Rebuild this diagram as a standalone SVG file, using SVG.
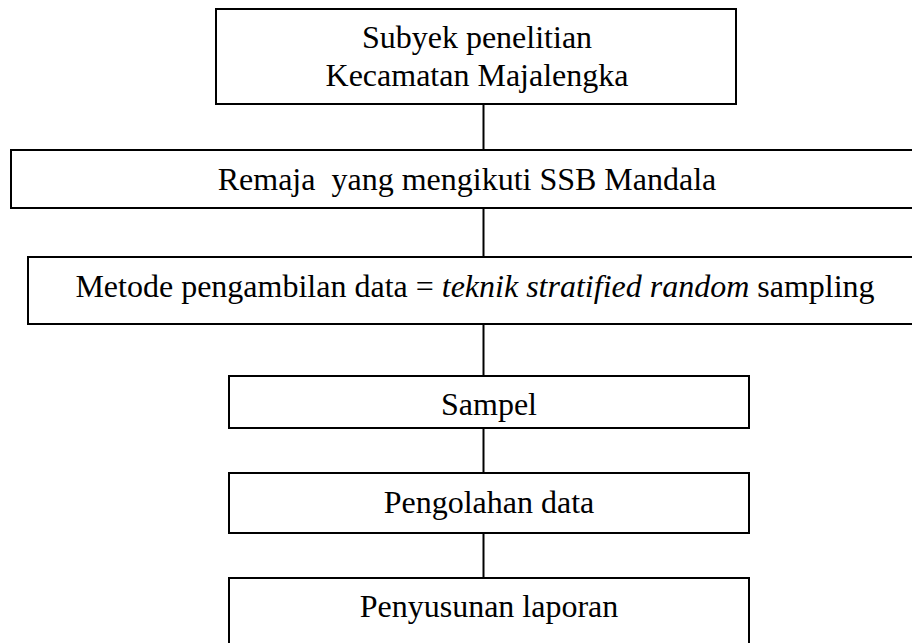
<svg xmlns="http://www.w3.org/2000/svg" width="912" height="643" viewBox="0 0 912 643">
<style>
.box{fill:#fff;stroke:#000;stroke-width:2}
.t{font-family:"Liberation Serif","Times New Roman",serif;font-size:32px;fill:#000;text-anchor:middle}
.conn{stroke:#000;stroke-width:2;fill:none}
</style>
<rect width="912" height="643" fill="#fff"/>
<g id="connectors">
<line class="conn" x1="483.5" y1="104" x2="483.5" y2="150"/>
<line class="conn" x1="483.5" y1="208" x2="483.5" y2="257"/>
<line class="conn" x1="483.5" y1="324" x2="483.5" y2="376"/>
<line class="conn" x1="483.5" y1="428" x2="483.5" y2="473"/>
<line class="conn" x1="483.5" y1="533" x2="483.5" y2="578"/>
</g>
<g id="subyek">
<rect class="box" x="216" y="9" width="520" height="95"/>
<text class="t" x="477" y="48">Subyek penelitian</text>
<text class="t" x="477" y="86">Kecamatan Majalengka</text>
</g>
<g id="remaja">
<rect class="box" x="11" y="150" width="920" height="58"/>
<text class="t" x="467" y="190" xml:space="preserve">Remaja  yang mengikuti SSB Mandala</text>
</g>
<g id="metode">
<rect class="box" x="28" y="257" width="900" height="67"/>
<text class="t" x="475" y="297">Metode pengambilan data = <tspan font-style="italic">teknik stratified random</tspan> sampling</text>
</g>
<g id="sampel">
<rect class="box" x="229" y="376" width="520" height="52"/>
<text class="t" x="489" y="415">Sampel</text>
</g>
<g id="pengolahan">
<rect class="box" x="229" y="473" width="520" height="60"/>
<text class="t" x="489" y="513">Pengolahan data</text>
</g>
<g id="penyusunan">
<rect class="box" x="229" y="578" width="520" height="90"/>
<text class="t" x="489" y="617">Penyusunan laporan</text>
</g>
</svg>
